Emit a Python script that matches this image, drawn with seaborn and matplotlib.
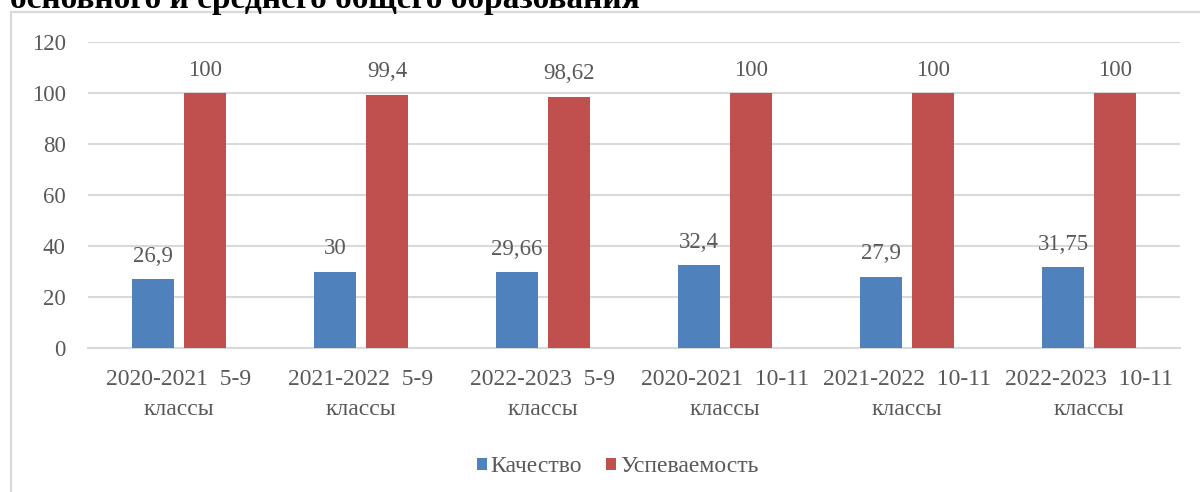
import pandas as pd
import matplotlib.pyplot as plt
import seaborn as sns
from matplotlib.patches import Rectangle

# данные с диаграммы
categories = ['2020-2021  5-9\nклассы', '2021-2022  5-9\nклассы', '2022-2023  5-9\nклассы',
              '2020-2021  10-11\nклассы', '2021-2022  10-11\nклассы', '2022-2023  10-11\nклассы']
kachestvo = [26.9, 30, 29.66, 32.4, 27.9, 31.75]
uspevaemost = [100, 99.4, 98.62, 100, 100, 100]
series_names = ['Качество', 'Успеваемость']
colors = ['#4F81BD', '#C0504D']
yticks = [0, 20, 40, 60, 80, 100, 120]

df = pd.DataFrame({
    'cat': categories * 2,
    'val': kachestvo + uspevaemost,
    'ser': [series_names[0]] * 6 + [series_names[1]] * 6,
})

sns.set_style('white')
plt.rcParams['font.family'] = ['Liberation Serif', 'DejaVu Serif']
text_c = '#595959'
grid_c = '#d9d9d9'

fig = plt.figure(figsize=(12, 4.92), dpi=100)
ax = fig.add_axes([88 / 1200, 1 - 348 / 492, 1092 / 1200, 305.7 / 492])

# рамка диаграммы
fig.patches.append(Rectangle((10.5 / 1200, -0.1), 1.2, 1.1 - 12 / 492,
                             transform=fig.transFigure, fill=False,
                             edgecolor=grid_c, lw=1.6, zorder=0))

# заголовок (обрезан сверху)
fig.text(10 / 1200, 1 - 8 / 492, 'основного и среднего общего образования',
         fontsize=24, fontweight='bold', color='black', va='baseline', ha='left')

sns.barplot(data=df, x='cat', y='val', hue='ser', palette=colors, saturation=1,
            width=0.571, gap=0.21, linewidth=0, ax=ax, zorder=3)

handles, labels = ax.get_legend_handles_labels()
ax.get_legend().remove()

for cont, vals in zip(ax.containers, [kachestvo, uspevaemost]):
    ax.bar_label(cont, labels=[f'{v:g}'.replace('.', ',') for v in vals],
                 padding=9, fontsize=16.5, color=text_c)

ax.set_ylim(0, 120)
ax.set_yticks(yticks)
ax.set_xlim(-0.5, len(categories) - 0.5)
ax.set_xlabel('')
ax.set_ylabel('')
ax.yaxis.grid(True, color=grid_c, lw=1.5)
ax.set_axisbelow(True)
for s in ['top', 'right', 'left']:
    ax.spines[s].set_visible(False)
ax.spines['bottom'].set_color(grid_c)
ax.spines['bottom'].set_linewidth(1.5)
ax.tick_params(axis='y', length=0, pad=16, labelsize=16.5, labelcolor=text_c)
ax.tick_params(axis='x', length=0, pad=15, labelsize=17, labelcolor=text_c)
for t in ax.get_xticklabels():
    t.set_linespacing(1.55)

fig.legend(handles, labels, loc='center', bbox_to_anchor=(617.5 / 1200, 1 - 467 / 492),
           ncol=2, frameon=False, fontsize=17, labelcolor=text_c,
           handlelength=0.45, handleheight=0.45, handletextpad=0.15,
           columnspacing=1.0, borderpad=0)

fig.savefig('out.png', dpi=100)
